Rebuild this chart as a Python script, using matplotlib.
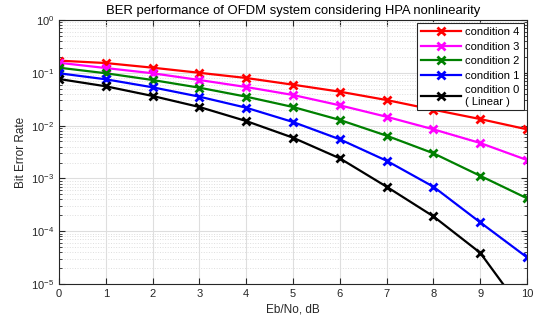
import numpy as np
import matplotlib
matplotlib.use('Agg')
import matplotlib.pyplot as plt

# Eb/No en dB
snr_db = [0, 1, 2, 3, 4, 5, 6, 7, 8, 9, 10]

# BER
ber_c4 = [0.170, 0.153, 0.125, 0.100, 0.0797, 0.0595, 0.0439, 0.0305, 0.020, 0.0133, 0.0085]
ber_c3 = [0.155, 0.123, 0.098, 0.073, 0.0538, 0.038, 0.0242, 0.0147, 0.0085, 0.00468, 0.00223]
ber_c2 = [0.125, 0.098, 0.073, 0.0522, 0.0353, 0.0225, 0.0128, 0.00644, 0.00299, 0.00112, 0.00042]
ber_c1 = [0.098, 0.0753, 0.0531, 0.0353, 0.0218, 0.0117, 0.0055, 0.00216, 0.000696, 0.000147, 3.2e-5]
ber_c0 = [0.0763, 0.0555, 0.0364, 0.0225, 0.0122, 0.0059, 0.0024, 0.000696, 0.000191, 3.9e-5, 2.4e-6]

labels = ['condition 4', 'condition 3', 'condition 2', 'condition 1', 'condition 0\n( Linear )']
colors = ['#ff0000', '#ff00ff', '#008000', '#0000ff', '#000000']

plt.rcParams['font.family'] = 'Liberation Sans'

fig = plt.figure(figsize=(5.42, 3.2), dpi=100)
ax = fig.add_axes([59 / 542, 1 - 284 / 320, 468 / 542, 264 / 320])

for y, lab, c in zip([ber_c4, ber_c3, ber_c2, ber_c1, ber_c0], labels, colors):
    ax.semilogy(snr_db, y, color=c, lw=1.6, marker='x', ms=5.5, mew=2, label=lab)

ax.set_xlim(0, 10)
ax.set_ylim(1e-5, 1)
ax.set_xticks(range(0, 11))
ax.grid(True, which='major', color='#dedede', lw=0.8)
ax.grid(True, which='minor', axis='y', color='#dedede', lw=0.7, ls=':')
ax.tick_params(which='both', direction='in', top=True, right=True, labelsize=8, colors='#262626')
ax.tick_params(which='major', length=4)
ax.tick_params(which='minor', length=2)
for s in ax.spines.values():
    s.set_color('#262626')
    s.set_linewidth(0.8)

ax.set_xlabel('Eb/No, dB', fontsize=8.5, labelpad=3, color='#262626')
ax.set_ylabel('Bit Error Rate', fontsize=8.5, labelpad=3, color='#262626')
ax.set_title('BER performance of OFDM system considering HPA nonlinearity', fontsize=9.4, pad=4)

leg = ax.legend(loc='upper right', fontsize=8, fancybox=False, framealpha=1,
                edgecolor='#262626', handlelength=3.6, borderaxespad=0.3,
                labelspacing=0.4, borderpad=0.35, handletextpad=0.4)
leg.get_frame().set_linewidth(0.8)

plt.savefig('out.png', dpi=100)
